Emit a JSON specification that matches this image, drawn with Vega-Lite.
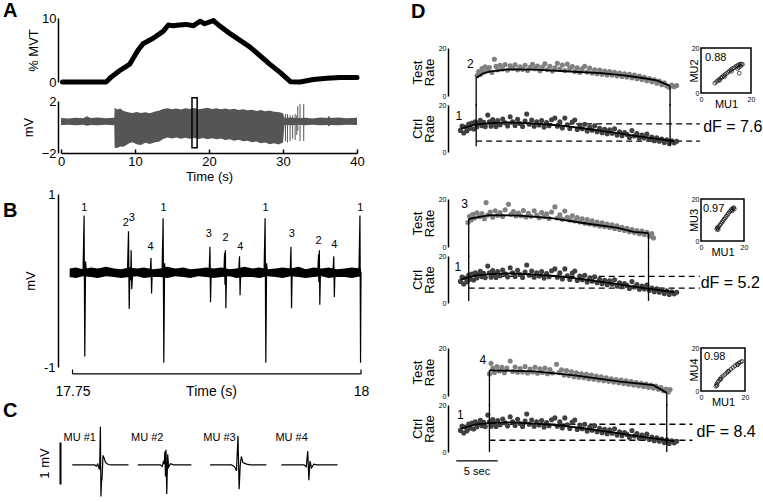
{
"$schema": "https://vega.github.io/schema/vega-lite/v6.json",
"padding": {"left": 3, "top": 1, "right": 0, "bottom": 0},
"config": {
  "view": {"stroke": null},
  "font": "Liberation Sans",
  "axis": {"grid": false, "labelColor": "black", "titleColor": "black", "domainColor": "black", "tickColor": "black", "labelFlush": false, "labelOverlap": false, "titleFontWeight": "normal", "labelFontSize": 13, "titleFontSize": 13, "domainWidth": 1.5, "ticks": false},
  "title": {"fontSize": 20, "fontWeight": "bold", "anchor": "start", "frame": "group", "color": "black", "offset": 0},
  "text": {"color": "black"}
},
"datasets": {
  "force": [{"t":0.2,"v":0},{"t":6.1,"v":0},{"t":6.8,"v":0.8},{"t":7.9,"v":1.76},{"t":9.3,"v":2.8},{"t":10.4,"v":4.95},{"t":11.1,"v":6.0},{"t":12.4,"v":6.8},{"t":13.8,"v":7.9},{"t":14.5,"v":8.9},{"t":15.1,"v":8.8},{"t":16.0,"v":8.9},{"t":16.9,"v":9.0},{"t":17.9,"v":8.8},{"t":18.8,"v":9.5},{"t":19.4,"v":9.1},{"t":20.6,"v":9.6},{"t":21.5,"v":8.7},{"t":22.8,"v":7.6},{"t":24.2,"v":6.5},{"t":25.5,"v":5.5},{"t":26.9,"v":4.1},{"t":28.2,"v":2.8},{"t":29.6,"v":1.5},{"t":31.0,"v":0.05},{"t":32.3,"v":0},{"t":34.1,"v":0.4},{"t":35.9,"v":0.6},{"t":37.7,"v":0.7},{"t":40.0,"v":0.7}],
  "emgEnv": [{"t":0.0,"hi":0.7,"lo":0.16},{"t":1.0,"hi":0.66,"lo":0.18},{"t":2.0,"hi":0.72,"lo":0.13},{"t":3.0,"hi":0.68,"lo":0.17},{"t":3.5,"hi":0.82,"lo":0.1},{"t":4.0,"hi":0.7,"lo":0.15},{"t":5.0,"hi":0.74,"lo":0.14},{"t":6.0,"hi":0.67,"lo":0.17},{"t":7.2,"hi":0.72,"lo":0.14},{"t":7.25,"hi":1.48,"lo":-1.59},{"t":7.6,"hi":1.35,"lo":-1.62},{"t":8.0,"hi":1.42,"lo":-1.5},{"t":8.4,"hi":1.25,"lo":-1.52},{"t":8.8,"hi":1.18,"lo":-1.4},{"t":9.2,"hi":1.12,"lo":-1.25},{"t":9.7,"hi":1.08,"lo":-1.18},{"t":10.2,"hi":1.15,"lo":-1.32},{"t":10.8,"hi":1.08,"lo":-1.38},{"t":11.4,"hi":1.14,"lo":-1.22},{"t":12.0,"hi":1.06,"lo":-1.3},{"t":12.6,"hi":1.18,"lo":-1.2},{"t":13.3,"hi":1.26,"lo":-1.12},{"t":13.8,"hi":1.38,"lo":-0.92},{"t":14.4,"hi":1.45,"lo":-0.8},{"t":15.0,"hi":1.36,"lo":-0.88},{"t":15.6,"hi":1.42,"lo":-0.8},{"t":16.2,"hi":1.34,"lo":-0.9},{"t":16.8,"hi":1.44,"lo":-0.82},{"t":17.4,"hi":1.38,"lo":-0.9},{"t":18.0,"hi":1.46,"lo":-0.85},{"t":18.6,"hi":1.36,"lo":-0.92},{"t":19.2,"hi":1.42,"lo":-0.84},{"t":19.8,"hi":1.48,"lo":-0.95},{"t":20.4,"hi":1.38,"lo":-0.86},{"t":21.0,"hi":1.45,"lo":-0.94},{"t":21.6,"hi":1.36,"lo":-0.88},{"t":22.2,"hi":1.42,"lo":-1.0},{"t":22.8,"hi":1.34,"lo":-0.94},{"t":23.4,"hi":1.4,"lo":-1.05},{"t":24.0,"hi":1.3,"lo":-0.98},{"t":24.6,"hi":1.36,"lo":-1.1},{"t":25.2,"hi":1.28,"lo":-1.05},{"t":25.8,"hi":1.33,"lo":-1.18},{"t":26.4,"hi":1.24,"lo":-1.12},{"t":27.0,"hi":1.3,"lo":-1.25},{"t":27.6,"hi":1.22,"lo":-1.2},{"t":28.2,"hi":1.26,"lo":-1.32},{"t":28.8,"hi":1.18,"lo":-1.25},{"t":29.4,"hi":1.15,"lo":-1.35},{"t":30.0,"hi":1.05,"lo":-1.2},{"t":30.2,"hi":0.7,"lo":0.15},{"t":31.0,"hi":0.74,"lo":0.13},{"t":32.0,"hi":0.68,"lo":0.17},{"t":33.0,"hi":0.72,"lo":0.14},{"t":34.0,"hi":0.66,"lo":0.18},{"t":35.0,"hi":0.73,"lo":0.13},{"t":36.0,"hi":0.7,"lo":0.15},{"t":36.2,"hi":0.86,"lo":0.04},{"t":36.4,"hi":0.7,"lo":0.15},{"t":37.5,"hi":0.73,"lo":0.14},{"t":38.5,"hi":0.67,"lo":0.17},{"t":40.0,"hi":0.71,"lo":0.15}],
  "emgSpk": [{"t":30.33,"y1":1.0,"y2":-1.1},{"t":30.6,"y1":1.0,"y2":-1.2},{"t":30.96,"y1":0.9,"y2":-1.1},{"t":31.3,"y1":0.9,"y2":-0.9},{"t":31.64,"y1":1.0,"y2":-1.0},{"t":31.86,"y1":0.9,"y2":-0.6},{"t":32.0,"y1":1.6,"y2":-0.3},{"t":32.3,"y1":1.77,"y2":-1.08},{"t":32.8,"y1":1.77,"y2":-1.08}],
  "emgBox": [{"x1":17.7,"x2":18.4,"y1":2.25,"y2":-1.6}],
  "bBand": [{"t":17.7475,"hi":0.14,"lo":0.04},{"t":17.753,"hi":0.15,"lo":0.03},{"t":17.759,"hi":0.13,"lo":0.05},{"t":17.766,"hi":0.15,"lo":0.04},{"t":17.772,"hi":0.14,"lo":0.03},{"t":17.779,"hi":0.16,"lo":0.05},{"t":17.786,"hi":0.14,"lo":0.04},{"t":17.792,"hi":0.13,"lo":0.03},{"t":17.799,"hi":0.15,"lo":0.04},{"t":17.806,"hi":0.14,"lo":0.05},{"t":17.812,"hi":0.15,"lo":0.03},{"t":17.819,"hi":0.13,"lo":0.04},{"t":17.826,"hi":0.14,"lo":0.04},{"t":17.832,"hi":0.16,"lo":0.03},{"t":17.839,"hi":0.14,"lo":0.05},{"t":17.846,"hi":0.15,"lo":0.04},{"t":17.852,"hi":0.13,"lo":0.03},{"t":17.859,"hi":0.14,"lo":0.05},{"t":17.866,"hi":0.15,"lo":0.04},{"t":17.872,"hi":0.14,"lo":0.03},{"t":17.879,"hi":0.15,"lo":0.04},{"t":17.886,"hi":0.13,"lo":0.05},{"t":17.892,"hi":0.14,"lo":0.03},{"t":17.899,"hi":0.16,"lo":0.04},{"t":17.906,"hi":0.14,"lo":0.04},{"t":17.912,"hi":0.15,"lo":0.03},{"t":17.919,"hi":0.13,"lo":0.05},{"t":17.926,"hi":0.14,"lo":0.04},{"t":17.932,"hi":0.15,"lo":0.03},{"t":17.939,"hi":0.14,"lo":0.05},{"t":17.946,"hi":0.16,"lo":0.04},{"t":17.952,"hi":0.13,"lo":0.03},{"t":17.959,"hi":0.15,"lo":0.04},{"t":17.966,"hi":0.14,"lo":0.05},{"t":17.972,"hi":0.15,"lo":0.03},{"t":17.979,"hi":0.13,"lo":0.04},{"t":17.986,"hi":0.14,"lo":0.04},{"t":17.992,"hi":0.15,"lo":0.03},{"t":18.0,"hi":0.14,"lo":0.05}],
  "bSpk": [
    {"s":1,"t":17.7591,"v":0.1},{"s":1,"t":17.7600,"v":0.75},{"s":1,"t":17.7606,"v":-0.88},{"s":1,"t":17.7613,"v":0.22},{"s":1,"t":17.7621,"v":0.08},
    {"s":2,"t":17.7976,"v":0.1},{"s":2,"t":17.7985,"v":0.57},{"s":2,"t":17.7991,"v":-0.33},{"s":2,"t":17.7998,"v":0.15},{"s":2,"t":17.8004,"v":0.0},{"s":2,"t":17.8008,"v":0.35},{"s":2,"t":17.8013,"v":-0.1},{"s":2,"t":17.8021,"v":0.08},
    {"s":4,"t":17.8173,"v":0.1},{"s":4,"t":17.8180,"v":0.26},{"s":4,"t":17.8185,"v":-0.15},{"s":4,"t":17.8191,"v":0.12},{"s":4,"t":17.8198,"v":0.08},
    {"s":5,"t":17.8276,"v":0.1},{"s":5,"t":17.8285,"v":0.72},{"s":5,"t":17.8291,"v":-0.95},{"s":5,"t":17.8298,"v":0.2},{"s":5,"t":17.8306,"v":0.08},
    {"s":6,"t":17.8684,"v":0.1},{"s":6,"t":17.8691,"v":0.39},{"s":6,"t":17.8696,"v":-0.25},{"s":6,"t":17.8702,"v":0.14},{"s":6,"t":17.8709,"v":0.08},
    {"s":7,"t":17.8812,"v":0.1},{"s":7,"t":17.8818,"v":0.32},{"s":7,"t":17.8821,"v":-0.05},{"s":7,"t":17.8825,"v":0.35},{"s":7,"t":17.8829,"v":-0.32},{"s":7,"t":17.8835,"v":0.13},{"s":7,"t":17.8842,"v":0.08},
    {"s":8,"t":17.8940,"v":0.1},{"s":8,"t":17.8947,"v":0.28},{"s":8,"t":17.8952,"v":-0.17},{"s":8,"t":17.8958,"v":0.12},{"s":8,"t":17.8965,"v":0.08},
    {"s":9,"t":17.9160,"v":0.1},{"s":9,"t":17.9169,"v":0.72},{"s":9,"t":17.9175,"v":-0.95},{"s":9,"t":17.9182,"v":0.2},{"s":9,"t":17.9190,"v":0.08},
    {"s":10,"t":17.9386,"v":0.1},{"s":10,"t":17.9393,"v":0.39},{"s":10,"t":17.9398,"v":-0.32},{"s":10,"t":17.9404,"v":0.14},{"s":10,"t":17.9411,"v":0.08},
    {"s":11,"t":17.9626,"v":0.1},{"s":11,"t":17.9632,"v":0.3},{"s":11,"t":17.9635,"v":-0.02},{"s":11,"t":17.9639,"v":0.35},{"s":11,"t":17.9643,"v":-0.28},{"s":11,"t":17.9649,"v":0.12},{"s":11,"t":17.9656,"v":0.08},
    {"s":12,"t":17.9757,"v":0.1},{"s":12,"t":17.9764,"v":0.28},{"s":12,"t":17.9769,"v":-0.19},{"s":12,"t":17.9775,"v":0.12},{"s":12,"t":17.9782,"v":0.08},
    {"s":13,"t":17.9982,"v":0.1},{"s":13,"t":17.9991,"v":0.75},{"s":13,"t":17.9996,"v":-0.95},{"s":13,"t":18.0,"v":0.1}
  ],
  "bLab": [{"t":17.7603,"v":0.84,"lab":"1"},{"t":17.7962,"v":0.66,"lab":"2"},{"t":17.8014,"v":0.72,"lab":"3"},{"t":17.8176,"v":0.39,"lab":"4"},{"t":17.8288,"v":0.84,"lab":"1"},{"t":17.8681,"v":0.54,"lab":"3"},{"t":17.8827,"v":0.49,"lab":"2"},{"t":17.8953,"v":0.39,"lab":"4"},{"t":17.9172,"v":0.84,"lab":"1"},{"t":17.9401,"v":0.54,"lab":"3"},{"t":17.9632,"v":0.46,"lab":"2"},{"t":17.9769,"v":0.41,"lab":"4"},{"t":17.9994,"v":0.84,"lab":"1"}],
  "bBr": [{"t":17.75,"t2":18.0,"v":-1.08,"v2":-1.08},{"t":17.75,"t2":17.75,"v":-1.08,"v2":-1.03},{"t":18.0,"t2":18.0,"v":-1.08,"v2":-1.03}],
  "cWave": [
    {"mu":1,"x":3,"v":0},{"mu":1,"x":9.0,"v":0},{"mu":1,"x":9.4,"v":-0.03},{"mu":1,"x":9.8,"v":0.02},{"mu":1,"x":10.1,"v":-0.08},{"mu":1,"x":10.3,"v":-0.12},{"mu":1,"x":10.5,"v":1.0},{"mu":1,"x":10.65,"v":-0.83},{"mu":1,"x":10.8,"v":-0.45},{"mu":1,"x":10.95,"v":-0.35},{"mu":1,"x":11.2,"v":0.25},{"mu":1,"x":11.5,"v":0.18},{"mu":1,"x":11.9,"v":0.06},{"mu":1,"x":12.6,"v":0.01},{"mu":1,"x":13.5,"v":0},{"mu":1,"x":18,"v":0},
    {"mu":2,"x":20.5,"v":0},{"mu":2,"x":26.5,"v":0},{"mu":2,"x":27.0,"v":-0.04},{"mu":2,"x":27.3,"v":0.08},{"mu":2,"x":27.55,"v":0.02},{"mu":2,"x":27.7,"v":0.35},{"mu":2,"x":27.85,"v":-0.3},{"mu":2,"x":28.0,"v":0.4},{"mu":2,"x":28.2,"v":-0.76},{"mu":2,"x":28.45,"v":0.28},{"mu":2,"x":28.7,"v":-0.06},{"mu":2,"x":29.2,"v":0.03},{"mu":2,"x":30,"v":0},{"mu":2,"x":34.75,"v":0},
    {"mu":3,"x":39.75,"v":0},{"mu":3,"x":45.5,"v":0},{"mu":3,"x":46.3,"v":-0.05},{"mu":3,"x":46.8,"v":-0.15},{"mu":3,"x":47.2,"v":0.76},{"mu":3,"x":47.5,"v":-0.64},{"mu":3,"x":47.8,"v":0.0},{"mu":3,"x":48.1,"v":0.22},{"mu":3,"x":48.5,"v":0.06},{"mu":3,"x":49.5,"v":0.02},{"mu":3,"x":50.5,"v":0},{"mu":3,"x":54.75,"v":0},
    {"mu":4,"x":58.75,"v":0},{"mu":4,"x":64.8,"v":0},{"mu":4,"x":65.4,"v":-0.05},{"mu":4,"x":65.8,"v":0.36},{"mu":4,"x":66.1,"v":-0.4},{"mu":4,"x":66.4,"v":0.1},{"mu":4,"x":66.8,"v":-0.08},{"mu":4,"x":67.4,"v":0.02},{"mu":4,"x":68.2,"v":0},{"mu":4,"x":73.75,"v":0}
  ],
  "cLab": [{"x":5.0,"v":0.71,"lab":"MU #1"},{"x":23.0,"v":0.71,"lab":"MU #2"},{"x":42.25,"v":0.71,"lab":"MU #3"},{"x":61.5,"v":0.71,"lab":"MU #4"}],
  "ctrl": [{"t":1.5,"v":9.2},{"t":1.7,"v":11.0},{"t":1.9,"v":8.1},{"t":2.1,"v":10.6},{"t":2.3,"v":9.0},{"t":2.5,"v":11.9},{"t":2.7,"v":10.1},{"t":2.9,"v":12.3},{"t":3.1,"v":9.8},{"t":3.3,"v":12.9},{"t":3.5,"v":10.7},{"t":3.7,"v":12.0},{"t":3.9,"v":13.5},{"t":4.1,"v":11.2},{"t":4.3,"v":12.6},{"t":4.5,"v":10.8},{"t":4.8,"v":15.7},{"t":5.0,"v":12.9},{"t":5.2,"v":11.0},{"t":5.4,"v":13.8},{"t":5.6,"v":12.2},{"t":5.8,"v":10.9},{"t":6.0,"v":13.4},{"t":6.3,"v":11.6},{"t":6.6,"v":14.0},{"t":6.9,"v":12.4},{"t":7.2,"v":11.1},{"t":7.5,"v":15.0},{"t":7.8,"v":12.8},{"t":8.1,"v":11.3},{"t":8.4,"v":13.9},{"t":8.7,"v":12.1},{"t":9.0,"v":10.9},{"t":9.3,"v":13.2},{"t":9.5,"v":16.2},{"t":9.8,"v":11.8},{"t":10.1,"v":13.6},{"t":10.4,"v":11.0},{"t":10.7,"v":12.9},{"t":11.0,"v":11.5},{"t":11.3,"v":13.4},{"t":11.6,"v":10.6},{"t":11.9,"v":12.5},{"t":12.2,"v":11.2},{"t":12.5,"v":13.7},{"t":12.9,"v":14.5},{"t":13.2,"v":11.0},{"t":13.5,"v":12.8},{"t":13.8,"v":10.2},{"t":14.1,"v":14.5},{"t":14.4,"v":11.6},{"t":14.7,"v":10.0},{"t":15.0,"v":12.7},{"t":15.3,"v":13.6},{"t":15.6,"v":9.6},{"t":15.9,"v":11.5},{"t":16.2,"v":9.9},{"t":16.5,"v":11.8},{"t":16.8,"v":8.9},{"t":17.1,"v":10.6},{"t":17.4,"v":9.3},{"t":17.7,"v":11.2},{"t":18.0,"v":8.6},{"t":18.3,"v":10.1},{"t":18.6,"v":8.2},{"t":18.9,"v":9.7},{"t":19.2,"v":7.8},{"t":19.5,"v":9.4},{"t":19.8,"v":8.0},{"t":20.1,"v":9.9},{"t":20.4,"v":7.2},{"t":20.7,"v":8.6},{"t":21.0,"v":6.9},{"t":21.3,"v":8.3},{"t":21.6,"v":7.5},{"t":21.9,"v":6.2},{"t":22.2,"v":9.1},{"t":22.5,"v":6.8},{"t":22.8,"v":7.9},{"t":23.1,"v":5.9},{"t":23.4,"v":7.2},{"t":23.7,"v":6.0},{"t":24.0,"v":7.6},{"t":24.3,"v":5.3},{"t":24.6,"v":6.4},{"t":24.9,"v":4.8},{"t":25.2,"v":6.0},{"t":25.5,"v":4.6},{"t":25.8,"v":5.5},{"t":26.1,"v":4.0},{"t":26.4,"v":5.2},{"t":26.7,"v":3.6},{"t":27.0,"v":4.8},{"t":27.3,"v":3.9},{"t":27.6,"v":4.6}],
  "ctrlFit": [{"t":1.6,"v":10.0},{"t":3.4,"v":11.8},{"t":5.5,"v":12.4},{"t":7.5,"v":12.6},{"t":10.5,"v":12.1},{"t":12.5,"v":11.6},{"t":14.5,"v":10.9},{"t":16.5,"v":10.0},{"t":18.5,"v":9.0},{"t":20.5,"v":8.0},{"t":22.4,"v":7.0},{"t":24.4,"v":6.0},{"t":26.8,"v":4.8},{"t":27.3,"v":4.6}],
  "test": [
    {"g":1,"t":3.5,"v":8.5},{"g":1,"t":3.7,"v":10.2},{"g":1,"t":3.9,"v":9.0},{"g":1,"t":4.1,"v":11.4},{"g":1,"t":4.3,"v":10.0},{"g":1,"t":4.5,"v":12.2},{"g":1,"t":4.8,"v":10.6},{"g":1,"t":5.0,"v":11.9},{"g":1,"t":5.3,"v":9.8},{"g":1,"t":5.6,"v":15.3},{"g":1,"t":5.8,"v":12.4},{"g":1,"t":6.0,"v":10.9},{"g":1,"t":6.3,"v":12.8},{"g":1,"t":6.6,"v":11.3},{"g":1,"t":6.9,"v":13.1},{"g":1,"t":7.2,"v":10.7},{"g":1,"t":7.5,"v":12.6},{"g":1,"t":7.8,"v":11.5},{"g":1,"t":8.1,"v":13.0},{"g":1,"t":8.4,"v":10.9},{"g":1,"t":8.7,"v":12.2},{"g":1,"t":9.0,"v":11.1},{"g":1,"t":9.3,"v":12.8},{"g":1,"t":9.6,"v":10.6},{"g":1,"t":9.9,"v":12.0},{"g":1,"t":10.2,"v":13.2},{"g":1,"t":10.5,"v":11.4},{"g":1,"t":10.8,"v":12.5},{"g":1,"t":11.1,"v":10.5},{"g":1,"t":11.4,"v":12.1},{"g":1,"t":11.7,"v":13.4},{"g":1,"t":12.0,"v":11.0},{"g":1,"t":12.3,"v":12.4},{"g":1,"t":12.6,"v":10.4},{"g":1,"t":12.9,"v":11.8},{"g":1,"t":13.2,"v":13.6},{"g":1,"t":13.5,"v":11.2},{"g":1,"t":13.8,"v":12.9},{"g":1,"t":14.1,"v":10.6},{"g":1,"t":14.4,"v":13.3},{"g":1,"t":14.7,"v":11.5},{"g":1,"t":15.0,"v":12.3},{"g":1,"t":15.3,"v":10.2},{"g":1,"t":15.6,"v":11.7},{"g":1,"t":15.9,"v":9.8},{"g":1,"t":16.2,"v":11.3},{"g":1,"t":16.5,"v":12.4},{"g":1,"t":16.8,"v":10.0},{"g":1,"t":17.1,"v":11.6},{"g":1,"t":17.4,"v":9.6},{"g":1,"t":17.7,"v":10.9},{"g":1,"t":18.0,"v":9.3},{"g":1,"t":18.3,"v":10.8},{"g":1,"t":18.6,"v":9.1},{"g":1,"t":18.9,"v":10.4},{"g":1,"t":19.2,"v":8.8},{"g":1,"t":19.5,"v":10.2},{"g":1,"t":19.8,"v":8.7},{"g":1,"t":20.1,"v":9.9},{"g":1,"t":20.4,"v":8.4},{"g":1,"t":20.7,"v":9.6},{"g":1,"t":21.0,"v":8.1},{"g":1,"t":21.3,"v":9.3},{"g":1,"t":21.6,"v":7.9},{"g":1,"t":21.9,"v":9.0},{"g":1,"t":22.2,"v":7.6},{"g":1,"t":22.5,"v":8.7},{"g":1,"t":22.8,"v":7.2},{"g":1,"t":23.1,"v":8.3},{"g":1,"t":23.4,"v":6.9},{"g":1,"t":23.7,"v":7.8},{"g":1,"t":24.0,"v":6.4},{"g":1,"t":24.3,"v":7.3},{"g":1,"t":24.6,"v":5.9},{"g":1,"t":24.9,"v":6.8},{"g":1,"t":25.2,"v":5.3},{"g":1,"t":25.5,"v":6.2},{"g":1,"t":25.8,"v":4.7},{"g":1,"t":26.1,"v":5.5},{"g":1,"t":26.4,"v":4.2},{"g":1,"t":26.7,"v":3.6},{"g":1,"t":27.0,"v":4.6},{"g":1,"t":27.3,"v":3.9},{"g":1,"t":27.6,"v":4.4},
    {"g":2,"t":2.4,"v":10.2},{"g":2,"t":2.6,"v":12.8},{"g":2,"t":2.8,"v":11.3},{"g":2,"t":3.0,"v":13.6},{"g":2,"t":3.2,"v":12.1},{"g":2,"t":3.5,"v":14.2},{"g":2,"t":3.8,"v":12.6},{"g":2,"t":4.1,"v":13.9},{"g":2,"t":4.4,"v":11.8},{"g":2,"t":4.6,"v":18.5},{"g":2,"t":4.8,"v":13.3},{"g":2,"t":5.1,"v":14.6},{"g":2,"t":5.4,"v":12.4},{"g":2,"t":5.7,"v":15.1},{"g":2,"t":6.0,"v":13.2},{"g":2,"t":6.3,"v":14.4},{"g":2,"t":6.6,"v":12.7},{"g":2,"t":6.9,"v":15.5},{"g":2,"t":7.3,"v":17.8},{"g":2,"t":7.6,"v":13.6},{"g":2,"t":7.9,"v":14.8},{"g":2,"t":8.2,"v":12.9},{"g":2,"t":8.5,"v":14.1},{"g":2,"t":8.8,"v":13.0},{"g":2,"t":9.1,"v":15.2},{"g":2,"t":9.4,"v":12.5},{"g":2,"t":9.7,"v":14.0},{"g":2,"t":10.0,"v":12.8},{"g":2,"t":10.4,"v":15.1},{"g":2,"t":10.7,"v":13.3},{"g":2,"t":11.0,"v":12.2},{"g":2,"t":11.3,"v":14.4},{"g":2,"t":11.6,"v":12.6},{"g":2,"t":11.9,"v":13.8},{"g":2,"t":12.2,"v":11.9},{"g":2,"t":12.5,"v":14.6},{"g":2,"t":12.9,"v":16.7},{"g":2,"t":13.2,"v":12.1},{"g":2,"t":13.5,"v":13.4},{"g":2,"t":13.8,"v":11.6},{"g":2,"t":14.1,"v":15.0},{"g":2,"t":14.4,"v":12.4},{"g":2,"t":14.7,"v":11.2},{"g":2,"t":15.0,"v":13.0},{"g":2,"t":15.3,"v":10.9},{"g":2,"t":15.6,"v":12.3},{"g":2,"t":15.9,"v":10.4},{"g":2,"t":16.2,"v":11.8},{"g":2,"t":16.5,"v":9.9},{"g":2,"t":16.8,"v":11.4},{"g":2,"t":17.1,"v":9.6},{"g":2,"t":17.4,"v":10.9},{"g":2,"t":17.7,"v":9.2},{"g":2,"t":18.0,"v":10.4},{"g":2,"t":18.3,"v":8.8},{"g":2,"t":18.6,"v":10.1},{"g":2,"t":18.9,"v":8.5},{"g":2,"t":19.2,"v":9.6},{"g":2,"t":19.5,"v":8.1},{"g":2,"t":19.8,"v":9.2},{"g":2,"t":20.1,"v":7.7},{"g":2,"t":20.4,"v":8.8},{"g":2,"t":20.7,"v":7.3},{"g":2,"t":21.0,"v":8.2},{"g":2,"t":21.3,"v":6.9},{"g":2,"t":21.6,"v":7.8},{"g":2,"t":21.9,"v":6.4},{"g":2,"t":22.2,"v":7.3},{"g":2,"t":22.5,"v":6.0},{"g":2,"t":22.8,"v":6.9},{"g":2,"t":23.1,"v":5.5},{"g":2,"t":23.4,"v":6.6},{"g":2,"t":23.7,"v":5.2},{"g":2,"t":24.0,"v":6.1},{"g":2,"t":24.3,"v":4.5},{"g":2,"t":24.6,"v":5.6},{"g":2,"t":24.8,"v":3.8},
    {"g":3,"t":5.0,"v":9.2},{"g":3,"t":5.2,"v":13.6},{"g":3,"t":5.4,"v":11.5},{"g":3,"t":5.6,"v":9.8},{"g":3,"t":5.9,"v":12.3},{"g":3,"t":6.2,"v":10.4},{"g":3,"t":6.5,"v":12.0},{"g":3,"t":6.8,"v":9.7},{"g":3,"t":7.1,"v":11.6},{"g":3,"t":7.5,"v":14.6},{"g":3,"t":7.8,"v":10.2},{"g":3,"t":8.1,"v":12.1},{"g":3,"t":8.4,"v":9.9},{"g":3,"t":8.7,"v":11.4},{"g":3,"t":9.0,"v":10.0},{"g":3,"t":9.3,"v":12.3},{"g":3,"t":9.6,"v":9.6},{"g":3,"t":9.9,"v":11.2},{"g":3,"t":10.2,"v":10.0},{"g":3,"t":10.5,"v":12.0},{"g":3,"t":10.8,"v":9.5},{"g":3,"t":11.1,"v":11.3},{"g":3,"t":11.4,"v":9.8},{"g":3,"t":11.7,"v":11.6},{"g":3,"t":12.0,"v":9.3},{"g":3,"t":12.3,"v":11.0},{"g":3,"t":12.6,"v":9.6},{"g":3,"t":13.1,"v":13.2},{"g":3,"t":13.4,"v":9.8},{"g":3,"t":13.7,"v":10.9},{"g":3,"t":14.0,"v":8.7},{"g":3,"t":14.3,"v":10.6},{"g":3,"t":14.6,"v":8.5},{"g":3,"t":14.9,"v":10.1},{"g":3,"t":15.2,"v":8.0},{"g":3,"t":15.5,"v":9.7},{"g":3,"t":15.8,"v":7.8},{"g":3,"t":16.1,"v":9.3},{"g":3,"t":16.4,"v":7.6},{"g":3,"t":16.7,"v":9.0},{"g":3,"t":17.0,"v":7.2},{"g":3,"t":17.3,"v":8.7},{"g":3,"t":17.6,"v":7.0},{"g":3,"t":17.9,"v":8.3},{"g":3,"t":18.2,"v":6.7},{"g":3,"t":18.5,"v":8.0},{"g":3,"t":18.8,"v":6.4},{"g":3,"t":19.1,"v":7.6},{"g":3,"t":19.4,"v":6.1},{"g":3,"t":19.7,"v":7.2},{"g":3,"t":20.0,"v":5.8},{"g":3,"t":20.3,"v":6.9},{"g":3,"t":20.6,"v":5.5},{"g":3,"t":20.9,"v":6.6},{"g":3,"t":21.2,"v":5.2},{"g":3,"t":21.5,"v":6.3},{"g":3,"t":21.8,"v":4.9},{"g":3,"t":22.1,"v":6.0},{"g":3,"t":22.4,"v":4.6},{"g":3,"t":22.7,"v":5.6},{"g":3,"t":23.0,"v":4.3},{"g":3,"t":23.3,"v":5.3},{"g":3,"t":23.6,"v":4.0},{"g":3,"t":23.9,"v":5.0},{"g":3,"t":24.2,"v":3.6},{"g":3,"t":24.5,"v":4.6},{"g":3,"t":24.8,"v":3.3},{"g":3,"t":25.1,"v":4.1},{"g":3,"t":25.4,"v":2.8},{"g":3,"t":25.7,"v":3.5},{"g":3,"t":26.0,"v":2.2},{"g":3,"t":26.3,"v":2.9},{"g":3,"t":26.6,"v":1.7},{"g":3,"t":26.8,"v":2.7}
  ],
  "testFit": [
    {"g":1,"t":3.4,"v":7.6},{"g":1,"t":4.2,"v":9.3},{"g":1,"t":5.0,"v":10.2},{"g":1,"t":7.3,"v":11.1},{"g":1,"t":10.5,"v":11.0},{"g":1,"t":15.3,"v":10.1},{"g":1,"t":18.5,"v":9.5},{"g":1,"t":21.2,"v":8.6},{"g":1,"t":23.5,"v":7.5},{"g":1,"t":25.2,"v":6.5},{"g":1,"t":26.8,"v":4.2},
    {"g":2,"t":2.5,"v":11.7},{"g":2,"t":5.0,"v":13.3},{"g":2,"t":8.6,"v":13.1},{"g":2,"t":12.5,"v":12.0},{"g":2,"t":16.5,"v":9.9},{"g":2,"t":20.5,"v":8.0},{"g":2,"t":22.4,"v":6.3},{"g":2,"t":24.2,"v":5.8},
    {"g":3,"t":5.0,"v":10.7},{"g":3,"t":10.5,"v":10.3},{"g":3,"t":15.3,"v":8.6},{"g":3,"t":20.8,"v":6.0},{"g":3,"t":24.8,"v":4.5},{"g":3,"t":26.4,"v":1.3}
  ],
  "vlines": [
    {"g":1,"p":"test","t":3.4,"v1":7.6,"v2":-4.2},{"g":1,"p":"test","t":26.8,"v1":4.2,"v2":-4.2},{"g":1,"p":"ctrl","t":3.4,"v1":20.3,"v2":2.5},{"g":1,"p":"ctrl","t":26.8,"v1":20.3,"v2":2.5},
    {"g":2,"p":"test","t":2.5,"v1":11.7,"v2":-4.2},{"g":2,"p":"test","t":24.2,"v1":5.8,"v2":-4.2},{"g":2,"p":"ctrl","t":2.5,"v1":20.3,"v2":0.9},{"g":2,"p":"ctrl","t":24.2,"v1":20.3,"v2":0.9},
    {"g":3,"p":"test","t":5.0,"v1":10.7,"v2":-4.2},{"g":3,"p":"test","t":26.4,"v1":1.3,"v2":-4.2},{"g":3,"p":"ctrl","t":5.0,"v1":20.3,"v2":0},{"g":3,"p":"ctrl","t":26.4,"v1":20.3,"v2":0}
  ],
  "dash": [{"g":1,"t1":3.4,"t2":30.4,"v":12.0},{"g":1,"t1":3.4,"t2":30.4,"v":4.6},{"g":2,"t1":2.5,"t2":30.4,"v":11.3},{"g":2,"t1":2.5,"t2":30.4,"v":6.3},{"g":3,"t1":5.0,"t2":29.5,"v":11.8},{"g":3,"t1":5.0,"t2":29.5,"v":5.0}],
  "dF": [{"g":1,"t":30.8,"v":10.6,"lab":"dF = 7.6"},{"g":2,"t":30.5,"v":8.7,"lab":"dF = 5.2"},{"g":3,"t":30.0,"v":8.5,"lab":"dF = 8.4"}],
  "dLab": [{"g":1,"p":"test","t":2.7,"v":13.5,"lab":"2"},{"g":1,"p":"ctrl","t":1.3,"v":15.3,"lab":"1"},{"g":2,"p":"test","t":2.0,"v":18.0,"lab":"3"},{"g":2,"p":"ctrl","t":1.2,"v":15.2,"lab":"1"},{"g":3,"p":"test","t":4.2,"v":15.2,"lab":"4"},{"g":3,"p":"ctrl","t":1.5,"v":15.7,"lab":"1"}],
  "sbar": [{"t1":1.0,"t2":6.0,"v":-3.8,"lab":"5 sec","tm":3.5,"vt":-8.5}],
  "scat": [
    {"g":1,"a":5.5,"b":4.4},{"g":1,"a":6.2,"b":5.0},{"g":1,"a":6.8,"b":5.6},{"g":1,"a":7.4,"b":6.1},{"g":1,"a":8.0,"b":6.7},{"g":1,"a":8.5,"b":7.2},{"g":1,"a":9.0,"b":7.7},{"g":1,"a":9.6,"b":8.2},{"g":1,"a":10.2,"b":8.7},{"g":1,"a":10.8,"b":9.2},{"g":1,"a":11.4,"b":9.8},{"g":1,"a":12.0,"b":10.3},{"g":1,"a":12.6,"b":10.8},{"g":1,"a":13.2,"b":11.2},{"g":1,"a":13.8,"b":11.7},{"g":1,"a":14.4,"b":12.1},{"g":1,"a":15.0,"b":12.5},{"g":1,"a":15.6,"b":12.8},{"g":1,"a":16.2,"b":12.9},{"g":1,"a":16.6,"b":12.7},{"g":1,"a":15.8,"b":11.9},{"g":1,"a":15.2,"b":11.4},{"g":1,"a":14.6,"b":10.9},{"g":1,"a":15.3,"b":8.8},{"g":1,"a":12.2,"b":9.6},{"g":1,"a":9.4,"b":7.2},{"g":1,"a":7.5,"b":5.6},
    {"g":2,"a":7.3,"b":5.6},{"g":2,"a":7.8,"b":6.1},{"g":2,"a":8.3,"b":6.8},{"g":2,"a":8.8,"b":7.6},{"g":2,"a":9.3,"b":8.3},{"g":2,"a":9.8,"b":9.0},{"g":2,"a":10.3,"b":9.7},{"g":2,"a":10.8,"b":10.4},{"g":2,"a":11.3,"b":11.1},{"g":2,"a":11.8,"b":11.8},{"g":2,"a":12.3,"b":12.5},{"g":2,"a":12.8,"b":13.2},{"g":2,"a":13.3,"b":13.9},{"g":2,"a":13.8,"b":14.5},{"g":2,"a":14.3,"b":15.1},{"g":2,"a":14.8,"b":15.6},{"g":2,"a":15.3,"b":15.9},{"g":2,"a":8.0,"b":5.4},{"g":2,"a":7.6,"b":6.4},{"g":2,"a":14.6,"b":14.4},{"g":2,"a":15.5,"b":15.2},
    {"g":3,"a":6.8,"b":2.2},{"g":3,"a":7.1,"b":3.1},{"g":3,"a":7.5,"b":3.9},{"g":3,"a":8.0,"b":4.7},{"g":3,"a":8.6,"b":5.5},{"g":3,"a":9.3,"b":6.3},{"g":3,"a":10.1,"b":7.1},{"g":3,"a":10.9,"b":7.7},{"g":3,"a":11.8,"b":8.5},{"g":3,"a":12.7,"b":9.3},{"g":3,"a":13.6,"b":10.1},{"g":3,"a":14.5,"b":10.9},{"g":3,"a":15.4,"b":11.7},{"g":3,"a":16.3,"b":12.4},{"g":3,"a":17.2,"b":13.0},{"g":3,"a":18.0,"b":13.5},{"g":3,"a":18.7,"b":13.8},{"g":3,"a":7.3,"b":2.6},{"g":3,"a":9.0,"b":5.4},{"g":3,"a":12.2,"b":9.1},{"g":3,"a":16.8,"b":12.2}
  ],
  "rTxt": [{"g":1,"a":1.6,"b":15.6,"lab":"0.88"},{"g":2,"a":0.9,"b":15.1,"lab":"0.97"},{"g":3,"a":1.4,"b":15.7,"lab":"0.98"}]
},
"hconcat": [
  {
    "vconcat": [
      {
        "width": 296, "height": 64,
        "title": {"text": "A", "dx": -58, "dy": 13},
        "data": {"name": "force"},
        "mark": {"type": "line", "color": "black", "strokeWidth": 5, "strokeJoin": "round", "strokeCap": "round"},
        "encoding": {
          "x": {"field": "t", "type": "quantitative", "scale": {"domain": [0, 40]}, "axis": null},
          "y": {"field": "v", "type": "quantitative", "scale": {"domain": [0, 10]}, "axis": {"values": [0, 10], "offset": 3, "labelPadding": 2, "title": "% MVT", "titlePadding": 1}}
        }
      },
      {"width": 1, "height": 19, "data": {"values": []}, "mark": "point"},
      {
        "width": 296, "height": 52,
        "layer": [
          {"data": {"name": "emgEnv"}, "mark": {"type": "area", "color": "#555555"},
           "encoding": {
             "x": {"field": "t", "type": "quantitative", "scale": {"domain": [0, 40]}, "axis": {"values": [0,5,10,15,20,25,30,35,40], "labelExpr": "datum.value % 10 == 0 ? datum.label : ''", "ticks": true, "tickSize": -4, "tickWidth": 1.5, "labelPadding": 6, "title": "Time (s)", "titlePadding": 2}},
             "y": {"field": "hi", "type": "quantitative", "scale": {"domain": [-2, 2]}, "axis": {"values": [-2, 2], "offset": 3, "labelPadding": 2, "title": "mV", "titlePadding": 6}},
             "y2": {"field": "lo"}
           }},
          {"data": {"name": "emgSpk"}, "mark": {"type": "rule", "color": "#555555", "strokeWidth": 1},
           "encoding": {"x": {"field": "t", "type": "quantitative"}, "y": {"field": "y1", "type": "quantitative"}, "y2": {"field": "y2"}}},
          {"data": {"name": "emgBox"}, "mark": {"type": "rect", "fillOpacity": 0, "stroke": "black", "strokeWidth": 1.5},
           "encoding": {"x": {"field": "x1", "type": "quantitative"}, "x2": {"field": "x2"}, "y": {"field": "y1", "type": "quantitative"}, "y2": {"field": "y2"}}}
        ]
      },
      {"width": 1, "height": 41, "data": {"values": []}, "mark": "point"},
      {
        "width": 300, "height": 173,
        "title": {"text": "B", "dx": -58, "dy": 37},
        "layer": [
          {"data": {"name": "bBand"}, "mark": {"type": "area", "color": "black"},
           "encoding": {
             "x": {"field": "t", "type": "quantitative", "scale": {"domain": [17.744, 18.0]}, "axis": {"values": [17.75, 18], "labelExpr": "'' + datum.value", "domain": false, "labelPadding": 17, "labelFontSize": 14, "title": "Time (s)", "titleFontSize": 14, "titleY": 17, "titleBaseline": "top"}},
             "y": {"field": "hi", "type": "quantitative", "scale": {"domain": [-1, 1]}, "axis": {"values": [-1, 1], "labelExpr": "'' + datum.value", "offset": 3, "labelPadding": 3, "title": "mV", "titlePadding": 6}},
             "y2": {"field": "lo"}
           }},
          {"data": {"name": "bSpk"}, "mark": {"type": "line", "color": "black", "strokeWidth": 1.2},
           "encoding": {"x": {"field": "t", "type": "quantitative"}, "y": {"field": "v", "type": "quantitative"}, "detail": {"field": "s"}}},
          {"data": {"name": "bLab"}, "mark": {"type": "text", "fontSize": 11},
           "encoding": {"x": {"field": "t", "type": "quantitative"}, "y": {"field": "v", "type": "quantitative"}, "text": {"field": "lab"}}},
          {"data": {"name": "bBr"}, "mark": {"type": "rule", "color": "black", "strokeWidth": 1.2},
           "encoding": {"x": {"field": "t", "type": "quantitative"}, "x2": {"field": "t2"}, "y": {"field": "v", "type": "quantitative"}, "y2": {"field": "v2"}}}
        ]
      },
      {"width": 1, "height": 75, "data": {"values": []}, "mark": "point"},
      {
        "width": 300, "height": 42,
        "title": {"text": "C", "dx": -58, "offset": 3},
        "layer": [
          {"data": {"name": "cWave"}, "mark": {"type": "line", "color": "black", "strokeWidth": 1.2},
           "encoding": {
             "x": {"field": "x", "type": "quantitative", "scale": {"domain": [0, 75]}, "axis": null},
             "y": {"field": "v", "type": "quantitative", "scale": {"domain": [-0.43, 0.57]}, "axis": {"labels": false, "offset": 1, "title": "1 mV", "titlePadding": 9, "domainWidth": 2}},
             "detail": {"field": "mu"}
           }},
          {"data": {"name": "cLab"}, "mark": {"type": "text", "fontSize": 11},
           "encoding": {"x": {"field": "x", "type": "quantitative"}, "y": {"field": "v", "type": "quantitative"}, "text": {"field": "lab"}}}
        ]
      }
    ],
    "spacing": 0,
    "bounds": "flush"
  },
  {
    "concat": [
      {"width": 1, "height": 21, "data": {"values": []}, "mark": "point"},
      {"width": 1, "height": 1, "data": {"values": []}, "mark": "point"},
      {
        "width": 232, "height": 48,
        "title": {"text": "D", "dx": -37, "offset": 22},
        "layer": [
          {"data": {"name": "test"}, "transform": [{"filter": "datum.g == 1"}], "mark": {"type": "circle", "color": "#808080", "size": 26, "opacity": 1},
           "encoding": {"x": {"field": "t", "type": "quantitative", "scale": {"domain": [0, 27.6]}, "axis": null},
             "y": {"field": "v", "type": "quantitative", "scale": {"domain": [0, 20]}, "axis": {"values": [0, 20], "labelFontSize": 7, "labelPadding": 2, "title": ["Test", "Rate"], "titlePadding": 2, "titleLineHeight": 12}}}},
          {"data": {"name": "testFit"}, "transform": [{"filter": "datum.g == 1"}], "mark": {"type": "line", "color": "black", "strokeWidth": 1.8},
           "encoding": {"x": {"field": "t", "type": "quantitative"}, "y": {"field": "v", "type": "quantitative"}}},
          {"data": {"name": "vlines"}, "transform": [{"filter": "datum.g == 1 && datum.p == 'test'"}], "mark": {"type": "rule", "color": "black", "strokeWidth": 1.3},
           "encoding": {"x": {"field": "t", "type": "quantitative"}, "y": {"field": "v1", "type": "quantitative"}, "y2": {"field": "v2"}}},
          {"data": {"name": "dLab"}, "transform": [{"filter": "datum.g == 1 && datum.p == 'test'"}], "mark": {"type": "text", "fontSize": 12},
           "encoding": {"x": {"field": "t", "type": "quantitative"}, "y": {"field": "v", "type": "quantitative"}, "text": {"field": "lab"}}}
        ]
      },
      {
        "width": 50, "height": 45,
        "view": {"stroke": "black", "strokeWidth": 1.5},
        "layer": [
          {"data": {"name": "scat"}, "transform": [{"filter": "datum.g == 1"}], "mark": {"type": "point", "filled": false, "color": "black", "size": 14, "strokeWidth": 1},
           "encoding": {
             "x": {"field": "a", "type": "quantitative", "scale": {"domain": [0, 20]}, "axis": {"values": [0, 20], "domain": false, "labelFontSize": 7, "labelPadding": 2, "title": "MU1", "titleFontSize": 11, "titleY": 5, "titleBaseline": "top"}},
             "y": {"field": "b", "type": "quantitative", "scale": {"domain": [0, 20]}, "axis": {"values": [0, 20], "domain": false, "labelFontSize": 7, "labelPadding": 2, "title": "MU2", "titleFontSize": 11, "titleX": -2}}}},
          {"data": {"name": "rTxt"}, "transform": [{"filter": "datum.g == 1"}], "mark": {"type": "text", "fontSize": 11, "align": "left"},
           "encoding": {"x": {"field": "a", "type": "quantitative"}, "y": {"field": "b", "type": "quantitative"}, "text": {"field": "lab"}}}
        ]
      },
      {
        "width": 232, "height": 47,
        "layer": [
          {"data": {"name": "dash"}, "transform": [{"filter": "datum.g == 1"}], "mark": {"type": "rule", "color": "black", "strokeWidth": 1.3, "strokeDash": [6, 4]},
           "encoding": {"x": {"field": "t1", "type": "quantitative", "scale": {"domain": [0, 27.6]}, "axis": null}, "x2": {"field": "t2"},
             "y": {"field": "v", "type": "quantitative", "scale": {"domain": [0, 20]}, "axis": {"values": [0, 20], "labelFontSize": 7, "labelPadding": 2, "title": ["Ctrl", "Rate"], "titlePadding": 2, "titleLineHeight": 12}}}},
          {"data": {"name": "ctrl"}, "mark": {"type": "circle", "color": "#404040", "size": 26, "opacity": 1},
           "encoding": {"x": {"field": "t", "type": "quantitative"}, "y": {"field": "v", "type": "quantitative"}}},
          {"data": {"name": "ctrlFit"}, "mark": {"type": "line", "color": "black", "strokeWidth": 1.8},
           "encoding": {"x": {"field": "t", "type": "quantitative"}, "y": {"field": "v", "type": "quantitative"}}},
          {"data": {"name": "vlines"}, "transform": [{"filter": "datum.g == 1 && datum.p == 'ctrl'"}], "mark": {"type": "rule", "color": "black", "strokeWidth": 1.3},
           "encoding": {"x": {"field": "t", "type": "quantitative"}, "y": {"field": "v1", "type": "quantitative"}, "y2": {"field": "v2"}}},
          {"data": {"name": "dLab"}, "transform": [{"filter": "datum.g == 1 && datum.p == 'ctrl'"}], "mark": {"type": "text", "fontSize": 12},
           "encoding": {"x": {"field": "t", "type": "quantitative"}, "y": {"field": "v", "type": "quantitative"}, "text": {"field": "lab"}}},
          {"data": {"name": "dF"}, "transform": [{"filter": "datum.g == 1"}], "mark": {"type": "text", "fontSize": 16, "align": "left", "baseline": "middle"},
           "encoding": {"x": {"field": "t", "type": "quantitative"}, "y": {"field": "v", "type": "quantitative"}, "text": {"field": "lab"}}}
        ]
      },
      {"width": 1, "height": 1, "data": {"values": []}, "mark": "point"},
      {"width": 1, "height": 29, "data": {"values": []}, "mark": "point"},
      {"width": 1, "height": 1, "data": {"values": []}, "mark": "point"},
      {
        "width": 232, "height": 48,
        "layer": [
          {"data": {"name": "test"}, "transform": [{"filter": "datum.g == 2"}], "mark": {"type": "circle", "color": "#808080", "size": 26, "opacity": 1},
           "encoding": {"x": {"field": "t", "type": "quantitative", "scale": {"domain": [0, 27.6]}, "axis": null},
             "y": {"field": "v", "type": "quantitative", "scale": {"domain": [0, 20]}, "axis": {"values": [0, 20], "labelFontSize": 7, "labelPadding": 2, "title": ["Test", "Rate"], "titlePadding": 2, "titleLineHeight": 12}}}},
          {"data": {"name": "testFit"}, "transform": [{"filter": "datum.g == 2"}], "mark": {"type": "line", "color": "black", "strokeWidth": 1.8},
           "encoding": {"x": {"field": "t", "type": "quantitative"}, "y": {"field": "v", "type": "quantitative"}}},
          {"data": {"name": "vlines"}, "transform": [{"filter": "datum.g == 2 && datum.p == 'test'"}], "mark": {"type": "rule", "color": "black", "strokeWidth": 1.3},
           "encoding": {"x": {"field": "t", "type": "quantitative"}, "y": {"field": "v1", "type": "quantitative"}, "y2": {"field": "v2"}}},
          {"data": {"name": "dLab"}, "transform": [{"filter": "datum.g == 2 && datum.p == 'test'"}], "mark": {"type": "text", "fontSize": 12},
           "encoding": {"x": {"field": "t", "type": "quantitative"}, "y": {"field": "v", "type": "quantitative"}, "text": {"field": "lab"}}}
        ]
      },
      {
        "width": 43, "height": 42,
        "view": {"stroke": "black", "strokeWidth": 1.5},
        "layer": [
          {"data": {"name": "scat"}, "transform": [{"filter": "datum.g == 2"}], "mark": {"type": "point", "filled": false, "color": "black", "size": 14, "strokeWidth": 1},
           "encoding": {
             "x": {"field": "a", "type": "quantitative", "scale": {"domain": [0, 20]}, "axis": {"values": [0, 20], "domain": false, "labelFontSize": 7, "labelPadding": 2, "title": "MU1", "titleFontSize": 11, "titleY": 5, "titleBaseline": "top"}},
             "y": {"field": "b", "type": "quantitative", "scale": {"domain": [0, 20]}, "axis": {"values": [0, 20], "domain": false, "labelFontSize": 7, "labelPadding": 2, "title": "MU3", "titleFontSize": 11, "titleX": -2}}}},
          {"data": {"name": "rTxt"}, "transform": [{"filter": "datum.g == 2"}], "mark": {"type": "text", "fontSize": 11, "align": "left"},
           "encoding": {"x": {"field": "a", "type": "quantitative"}, "y": {"field": "b", "type": "quantitative"}, "text": {"field": "lab"}}}
        ]
      },
      {
        "width": 232, "height": 47,
        "layer": [
          {"data": {"name": "dash"}, "transform": [{"filter": "datum.g == 2"}], "mark": {"type": "rule", "color": "black", "strokeWidth": 1.3, "strokeDash": [6, 4]},
           "encoding": {"x": {"field": "t1", "type": "quantitative", "scale": {"domain": [0, 27.6]}, "axis": null}, "x2": {"field": "t2"},
             "y": {"field": "v", "type": "quantitative", "scale": {"domain": [0, 20]}, "axis": {"values": [0, 20], "labelFontSize": 7, "labelPadding": 2, "title": ["Ctrl", "Rate"], "titlePadding": 2, "titleLineHeight": 12}}}},
          {"data": {"name": "ctrl"}, "mark": {"type": "circle", "color": "#404040", "size": 26, "opacity": 1},
           "encoding": {"x": {"field": "t", "type": "quantitative"}, "y": {"field": "v", "type": "quantitative"}}},
          {"data": {"name": "ctrlFit"}, "mark": {"type": "line", "color": "black", "strokeWidth": 1.8},
           "encoding": {"x": {"field": "t", "type": "quantitative"}, "y": {"field": "v", "type": "quantitative"}}},
          {"data": {"name": "vlines"}, "transform": [{"filter": "datum.g == 2 && datum.p == 'ctrl'"}], "mark": {"type": "rule", "color": "black", "strokeWidth": 1.3},
           "encoding": {"x": {"field": "t", "type": "quantitative"}, "y": {"field": "v1", "type": "quantitative"}, "y2": {"field": "v2"}}},
          {"data": {"name": "dLab"}, "transform": [{"filter": "datum.g == 2 && datum.p == 'ctrl'"}], "mark": {"type": "text", "fontSize": 12},
           "encoding": {"x": {"field": "t", "type": "quantitative"}, "y": {"field": "v", "type": "quantitative"}, "text": {"field": "lab"}}},
          {"data": {"name": "dF"}, "transform": [{"filter": "datum.g == 2"}], "mark": {"type": "text", "fontSize": 16, "align": "left", "baseline": "middle"},
           "encoding": {"x": {"field": "t", "type": "quantitative"}, "y": {"field": "v", "type": "quantitative"}, "text": {"field": "lab"}}}
        ]
      },
      {"width": 1, "height": 1, "data": {"values": []}, "mark": "point"},
      {"width": 1, "height": 27, "data": {"values": []}, "mark": "point"},
      {"width": 1, "height": 1, "data": {"values": []}, "mark": "point"},
      {
        "width": 232, "height": 48,
        "layer": [
          {"data": {"name": "test"}, "transform": [{"filter": "datum.g == 3"}], "mark": {"type": "circle", "color": "#808080", "size": 26, "opacity": 1},
           "encoding": {"x": {"field": "t", "type": "quantitative", "scale": {"domain": [0, 27.6]}, "axis": null},
             "y": {"field": "v", "type": "quantitative", "scale": {"domain": [0, 20]}, "axis": {"values": [0, 20], "labelFontSize": 7, "labelPadding": 2, "title": ["Test", "Rate"], "titlePadding": 2, "titleLineHeight": 12}}}},
          {"data": {"name": "testFit"}, "transform": [{"filter": "datum.g == 3"}], "mark": {"type": "line", "color": "black", "strokeWidth": 1.8},
           "encoding": {"x": {"field": "t", "type": "quantitative"}, "y": {"field": "v", "type": "quantitative"}}},
          {"data": {"name": "vlines"}, "transform": [{"filter": "datum.g == 3 && datum.p == 'test'"}], "mark": {"type": "rule", "color": "black", "strokeWidth": 1.3},
           "encoding": {"x": {"field": "t", "type": "quantitative"}, "y": {"field": "v1", "type": "quantitative"}, "y2": {"field": "v2"}}},
          {"data": {"name": "dLab"}, "transform": [{"filter": "datum.g == 3 && datum.p == 'test'"}], "mark": {"type": "text", "fontSize": 12},
           "encoding": {"x": {"field": "t", "type": "quantitative"}, "y": {"field": "v", "type": "quantitative"}, "text": {"field": "lab"}}}
        ]
      },
      {
        "width": 44, "height": 43,
        "view": {"stroke": "black", "strokeWidth": 1.5},
        "layer": [
          {"data": {"name": "scat"}, "transform": [{"filter": "datum.g == 3"}], "mark": {"type": "point", "filled": false, "color": "black", "size": 14, "strokeWidth": 1},
           "encoding": {
             "x": {"field": "a", "type": "quantitative", "scale": {"domain": [0, 20]}, "axis": {"values": [0, 20], "domain": false, "labelFontSize": 7, "labelPadding": 2, "title": "MU1", "titleFontSize": 11, "titleY": 5, "titleBaseline": "top"}},
             "y": {"field": "b", "type": "quantitative", "scale": {"domain": [0, 20]}, "axis": {"values": [0, 20], "domain": false, "labelFontSize": 7, "labelPadding": 2, "title": "MU4", "titleFontSize": 11, "titleX": -2}}}},
          {"data": {"name": "rTxt"}, "transform": [{"filter": "datum.g == 3"}], "mark": {"type": "text", "fontSize": 11, "align": "left"},
           "encoding": {"x": {"field": "a", "type": "quantitative"}, "y": {"field": "b", "type": "quantitative"}, "text": {"field": "lab"}}}
        ]
      },
      {
        "width": 232, "height": 47,
        "layer": [
          {"data": {"name": "dash"}, "transform": [{"filter": "datum.g == 3"}], "mark": {"type": "rule", "color": "black", "strokeWidth": 1.3, "strokeDash": [6, 4]},
           "encoding": {"x": {"field": "t1", "type": "quantitative", "scale": {"domain": [0, 27.6]}, "axis": null}, "x2": {"field": "t2"},
             "y": {"field": "v", "type": "quantitative", "scale": {"domain": [0, 20]}, "axis": {"values": [0, 20], "labelFontSize": 7, "labelPadding": 2, "title": ["Ctrl", "Rate"], "titlePadding": 2, "titleLineHeight": 12}}}},
          {"data": {"name": "ctrl"}, "mark": {"type": "circle", "color": "#404040", "size": 26, "opacity": 1},
           "encoding": {"x": {"field": "t", "type": "quantitative"}, "y": {"field": "v", "type": "quantitative"}}},
          {"data": {"name": "ctrlFit"}, "mark": {"type": "line", "color": "black", "strokeWidth": 1.8},
           "encoding": {"x": {"field": "t", "type": "quantitative"}, "y": {"field": "v", "type": "quantitative"}}},
          {"data": {"name": "vlines"}, "transform": [{"filter": "datum.g == 3 && datum.p == 'ctrl'"}], "mark": {"type": "rule", "color": "black", "strokeWidth": 1.3},
           "encoding": {"x": {"field": "t", "type": "quantitative"}, "y": {"field": "v1", "type": "quantitative"}, "y2": {"field": "v2"}}},
          {"data": {"name": "dLab"}, "transform": [{"filter": "datum.g == 3 && datum.p == 'ctrl'"}], "mark": {"type": "text", "fontSize": 12},
           "encoding": {"x": {"field": "t", "type": "quantitative"}, "y": {"field": "v", "type": "quantitative"}, "text": {"field": "lab"}}},
          {"data": {"name": "dF"}, "transform": [{"filter": "datum.g == 3"}], "mark": {"type": "text", "fontSize": 16, "align": "left", "baseline": "middle"},
           "encoding": {"x": {"field": "t", "type": "quantitative"}, "y": {"field": "v", "type": "quantitative"}, "text": {"field": "lab"}}},
          {"data": {"name": "sbar"}, "mark": {"type": "rule", "color": "black", "strokeWidth": 1.3},
           "encoding": {"x": {"field": "t1", "type": "quantitative"}, "x2": {"field": "t2"}, "y": {"field": "v", "type": "quantitative"}}},
          {"data": {"name": "sbar"}, "mark": {"type": "text", "fontSize": 11},
           "encoding": {"x": {"field": "tm", "type": "quantitative"}, "y": {"field": "vt", "type": "quantitative"}, "text": {"field": "lab"}}}
        ]
      },
      {"width": 1, "height": 1, "data": {"values": []}, "mark": "point"}
    ],
    "columns": 2,
    "align": "each",
    "bounds": "flush",
    "spacing": {"row": 9, "column": 21}
  }
],
"spacing": 42
}
